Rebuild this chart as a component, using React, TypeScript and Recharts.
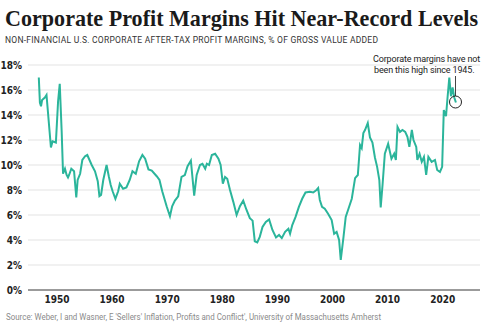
import React from "react";
import { LineChart, Line, XAxis, YAxis, CartesianGrid } from "recharts";

const years: number[] = [
  1946.7, 1946.9, 1947.1, 1947.3, 1947.8, 1948.1, 1948.5, 1948.9, 1949.2, 1949.8,
  1950.2, 1950.5, 1950.85, 1951.1, 1951.45, 1951.75, 1952.0, 1952.2, 1952.6, 1953.1,
  1953.5, 1953.75, 1954.2, 1954.6, 1955.1, 1955.5, 1955.9, 1956.3, 1956.9, 1957.4,
  1957.7, 1958.0, 1958.4, 1959.0, 1959.4, 1959.75, 1960.1, 1960.6, 1961.1, 1961.4,
  1962.0, 1962.6, 1963.2, 1963.7, 1964.3, 1964.9, 1965.5, 1966.0, 1966.6, 1967.2,
  1968.1, 1968.6, 1969.1, 1969.9, 1970.5, 1970.9, 1971.4, 1972.0, 1972.6, 1973.2,
  1973.7, 1974.3, 1974.9, 1975.35, 1975.95, 1976.4, 1976.9, 1977.2, 1977.6, 1978.1,
  1978.7, 1979.3, 1979.7, 1980.1, 1980.5, 1980.9, 1981.4, 1982.0, 1982.6, 1983.2,
  1983.8, 1984.4, 1985.0, 1985.5, 1985.9, 1986.35, 1986.8, 1987.3, 1987.9, 1988.5,
  1989.1, 1989.75, 1990.3, 1990.8, 1991.4, 1992.0, 1992.3, 1992.7, 1993.3, 1993.9,
  1994.5, 1995.1, 1995.9, 1996.5, 1997.1, 1997.4, 1997.7, 1998.1, 1998.6, 1999.2,
  1999.85, 2000.3, 2000.75, 2001.2, 2001.5, 2002.0, 2002.4, 2002.9, 2003.5, 2004.1,
  2004.6, 2005.0, 2005.3, 2005.6, 2005.9, 2006.4, 2006.8, 2007.25, 2007.7, 2008.1,
  2008.5, 2008.75, 2009.1, 2009.5, 2010.1, 2010.7, 2011.2, 2011.5, 2011.8, 2012.25,
  2012.7, 2013.2, 2013.6, 2013.95, 2014.4, 2014.7, 2015.2, 2015.4, 2015.8, 2016.2,
  2016.6, 2017.0, 2017.4, 2018.0, 2018.6, 2019.0, 2019.5, 2019.9, 2020.2, 2020.6,
  2020.9, 2021.2, 2021.5, 2021.8, 2022.1, 2022.4,
];

const margins: number[] = [
  17.0, 15.0, 14.7, 15.2, 15.4, 15.6, 13.5, 11.4, 11.9, 11.8,
  15.1, 16.5, 12.7, 9.3, 9.7, 9.2, 9.0, 9.2, 9.7, 9.5,
  7.4, 8.8, 9.3, 10.4, 10.7, 10.8, 10.4, 10.0, 9.5, 8.7,
  7.5, 7.6, 8.8, 10.0, 9.1, 8.4, 7.9, 7.3, 7.9, 8.5,
  8.1, 8.2, 8.8, 9.5, 9.3, 10.3, 10.8, 10.5, 9.65, 9.55,
  9.1, 8.8, 7.9, 6.7, 5.9, 6.7, 7.15, 7.5, 9.05, 9.2,
  9.9, 10.35, 7.55, 9.2, 10.0, 10.1, 9.7, 10.1, 10.0, 10.8,
  10.9, 10.5, 10.0, 8.5, 9.05, 8.9, 8.0, 7.05, 6.0, 6.7,
  7.15, 6.4, 5.75, 5.55, 3.9, 3.8, 4.25, 5.05, 5.45, 5.65,
  4.8, 4.2, 4.4, 4.15, 4.65, 4.9, 4.5, 5.2, 5.85, 6.65,
  7.3, 7.8, 7.85, 7.8, 8.0, 8.15, 7.2, 6.65, 6.5, 6.1,
  5.6, 4.5, 4.65, 4.0, 2.4, 4.25, 5.85, 6.5, 7.3, 8.95,
  9.2, 11.6, 11.35, 12.55, 12.8, 13.35, 12.2, 11.8, 10.6, 9.85,
  8.8, 6.6, 8.5, 10.9, 11.7, 10.5, 10.9, 10.4, 13.05, 12.65,
  12.8, 12.65, 12.25, 11.45, 12.8, 12.0, 11.45, 10.4, 10.9, 10.25,
  10.65, 9.2, 10.65, 10.25, 10.4, 9.6, 9.45, 9.85, 14.4, 13.9,
  15.5, 17.0, 15.5, 16.2, 15.4, 15.0,
];

const xTicks: number[] = [1950, 1960, 1970, 1980, 1990, 2000, 2010, 2020];
const yTicks: number[] = [0, 2, 4, 6, 8, 10, 12, 14, 16, 18];

const title = "Corporate Profit Margins Hit Near-Record Levels";
const subtitle = "NON-FINANCIAL U.S. CORPORATE AFTER-TAX PROFIT MARGINS, % OF GROSS VALUE ADDED";
const noteLines = ["Corporate margins have not", "been this high since 1945."];
const source =
  "Source: Weber, I and Wasner, E 'Sellers' Inflation, Profits and Conflict', University of Massachusetts Amherst";

const data = years.map((y, i) => ({ year: y, value: margins[i] }));

const tickFont = "'DejaVu Sans Condensed', 'Roboto', sans-serif";
const sansFont = "Roboto, 'Liberation Sans', sans-serif";

export default function App() {
  return (
    <div style={{ position: "absolute", left: 0, top: 0, width: 485, height: 330, background: "#fff" }}>
      <div style={{ position: "absolute", left: 0, top: 0 }}>
        <LineChart width={485} height={330} data={data} margin={{ top: 65, right: 5, bottom: 0, left: 0 }}>
          <CartesianGrid horizontal vertical={false} stroke="#e3e3e3" strokeWidth={1} />
          <XAxis
            dataKey="year"
            type="number"
            domain={[1944.74, 2026.77]}
            allowDataOverflow
            ticks={xTicks}
            height={40}
            tickSize={6}
            tickMargin={0}
            tickLine={false}
            axisLine={{ stroke: "#9b9b9b", strokeWidth: 2 }}
            tick={{ fill: "#222", fontSize: 10, fontWeight: 700, fontFamily: tickFont }}
            interval={0}
          />
          <YAxis
            type="number"
            domain={[0, 18]}
            ticks={yTicks}
            width={28}
            tickSize={6}
            tickMargin={0}
            tickLine={false}
            axisLine={false}
            tickFormatter={(v: number) => `${v}%`}
            tick={{ fill: "#222", fontSize: 10, fontWeight: 700, fontFamily: tickFont }}
            interval={0}
          />
          <Line
            type="linear"
            dataKey="value"
            stroke="#2bb59b"
            strokeWidth={2}
            dot={false}
            isAnimationActive={false}
          />
        </LineChart>
      </div>
      <svg
        width={485}
        height={330}
        style={{ position: "absolute", left: 0, top: 0, pointerEvents: "none" }}
      >
        <text
          x={5}
          y={26}
          style={{ fontFamily: "'Liberation Serif', 'DejaVu Serif', serif", fontWeight: 700, fontSize: 22.1, fill: "#1a1a1a" }}
        >
          {title}
        </text>
        <text
          x={5}
          y={43}
          textLength={373}
          lengthAdjust="spacing"
          style={{ fontFamily: sansFont, fontSize: 8.5, fill: "#333" }}
        >
          {subtitle}
        </text>
        <text
          x={373}
          y={62}
          style={{ fontFamily: sansFont, fontSize: 9, letterSpacing: -0.15, fill: "#222" }}
        >
          {noteLines[0]}
        </text>
        <text
          x={374}
          y={73}
          style={{ fontFamily: sansFont, fontSize: 9, letterSpacing: -0.15, fill: "#222" }}
        >
          {noteLines[1]}
        </text>
        <line x1={455.5} y1={76} x2={455.5} y2={96} stroke="#444" strokeWidth={1} />
        <circle cx={455.5} cy={102} r={6} fill="none" stroke="#222" strokeWidth={1} />
        <text
          x={6}
          y={320}
          textLength={375}
          lengthAdjust="spacingAndGlyphs"
          style={{ fontFamily: sansFont, fontSize: 9.3, fill: "#8a8a8a" }}
        >
          {source}
        </text>
      </svg>
    </div>
  );
}
